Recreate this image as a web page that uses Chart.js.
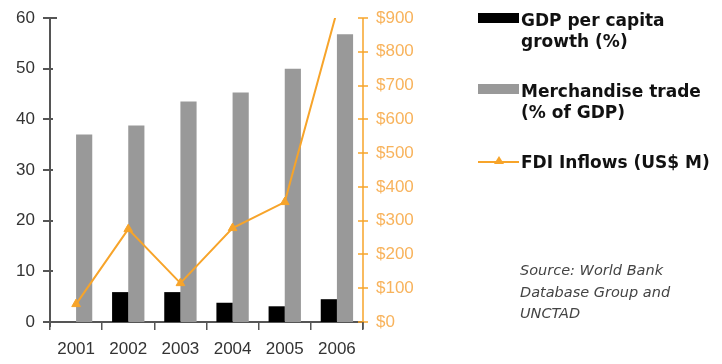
<!DOCTYPE html>
<html><head><meta charset="utf-8">
<script src="https://cdn.jsdelivr.net/npm/chart.js@4/dist/chart.umd.min.js"></script>
<style>
html,body{margin:0;padding:0;background:#fff;}
#wrap{position:relative;width:722px;height:364px;}
canvas{position:absolute;left:0;top:0;}
.leg{position:absolute;font-family:"DejaVu Sans",Verdana,sans-serif;font-weight:bold;font-size:17px;line-height:21px;color:#111;white-space:nowrap;}
.sw{position:absolute;}
.src{position:absolute;left:520px;top:260px;font-family:"DejaVu Sans",Verdana,sans-serif;font-style:italic;font-size:14.5px;line-height:21.5px;color:#444;}
</style></head>
<body><div id="wrap">
<canvas id="c" width="722" height="364"></canvas>
<div class="sw" style="left:478px;top:13px;width:41px;height:10px;background:#000"></div>
<div class="leg" style="left:521px;top:10px">GDP per capita<br>growth (%)</div>
<div class="sw" style="left:478px;top:84px;width:41px;height:10px;background:#999"></div>
<div class="leg" style="left:521px;top:81px">Merchandise trade<br>(% of GDP)</div>
<div class="sw" style="left:478px;top:161px;width:41px;height:2px;background:#f7a42a"></div>
<div class="sw" style="left:494px;top:156px;width:0;height:0;border-left:5px solid transparent;border-right:5px solid transparent;border-bottom:8px solid #f7a42a"></div>
<div class="leg" style="left:521px;top:152px">FDI Inflows (US$ M)</div>
<div class="src">Source: World Bank<br>Database Group and<br>UNCTAD</div>
</div>
<script>
const years = ['2001','2002','2003','2004','2005','2006'];
const gdpGrowth = [0, 5.9, 5.9, 3.8, 3.1, 4.5];
const merchTrade = [37, 38.8, 43.5, 45.3, 50, 56.8];
const fdiInflows = [53, 275, 115, 278, 355, 920];
const leftTicks = [0,10,20,30,40,50,60];
const rightTicks = [0,100,200,300,400,500,600,700,800,900];

const ORANGE = '#f7a42a';
const AXIS = '#555';
const FONT = "'Liberation Sans', Arial, sans-serif";

const tickCross = {
  id:'tickCross',
  afterDraw(chart){
    const c = chart.ctx, a = chart.chartArea;
    c.save();
    const yl = chart.scales.y, yr = chart.scales.yR;
    c.lineWidth = 2; c.strokeStyle = AXIS;
    c.beginPath(); c.moveTo(a.left, a.top); c.lineTo(a.left, a.bottom+5); c.stroke();
    leftTicks.forEach(v=>{const p=Math.round(yl.getPixelForValue(v)); c.beginPath(); c.moveTo(a.left-7,p); c.lineTo(a.left+ (v===60?7:3),p); c.stroke();});
    c.lineWidth = 1.5; c.strokeStyle = ORANGE;
    c.beginPath(); c.moveTo(a.right, a.top); c.lineTo(a.right, a.bottom); c.stroke();
    rightTicks.forEach(v=>{const p=Math.round(yr.getPixelForValue(v)); c.beginPath(); c.moveTo(a.right-5,p); c.lineTo(a.right+5,p); c.stroke();});
    c.lineWidth = 1.5; c.strokeStyle = AXIS;
    c.beginPath(); c.moveTo(a.right, a.bottom); c.lineTo(a.right, a.bottom+7); c.stroke();
    c.restore();
  }
};

new Chart(document.getElementById('c'), {
  data:{
    labels: years,
    datasets:[
      {type:'line', label:'FDI Inflows (US$ M)', data: fdiInflows, yAxisID:'yR', borderColor:ORANGE, backgroundColor:ORANGE, borderWidth:2, pointStyle:'triangle', pointRadius:5, pointBorderWidth:1, order:0, clip:0},
      {type:'bar', label:'GDP per capita growth (%)', data: gdpGrowth, yAxisID:'y', backgroundColor:'#000', categoryPercentage:0.62, barPercentage:1, order:1},
      {type:'bar', label:'Merchandise trade (% of GDP)', data: merchTrade, yAxisID:'y', backgroundColor:'#999', categoryPercentage:0.62, barPercentage:1, order:1}
    ]
  },
  options:{
    responsive:false, animation:false,
    layout:{padding:{top:18,left:0,right:0,bottom:0}},
    plugins:{legend:{display:false}, tooltip:{enabled:false}},
    scales:{
      x:{
        offset:true,
        grid:{offset:true, drawOnChartArea:false, drawTicks:true, tickLength:8, color:AXIS, lineWidth:1.5},
        border:{display:true, color:AXIS, width:2},
        ticks:{color:'#333', font:{family:FONT, size:17}, padding:9},
        afterFit(s){s.height = 42;}
      },
      y:{
        position:'left', min:0, max:60,
        afterBuildTicks(s){s.ticks = leftTicks.map(v=>({value:v}));},
        grid:{display:false},
        border:{display:false},
        ticks:{color:'#333', font:{family:FONT, size:17}, padding:7},
        afterFit(s){s.width = 50;}
      },
      yR:{
        position:'right', min:0, max:900,
        afterBuildTicks(s){s.ticks = rightTicks.map(v=>({value:v}));},
        grid:{display:false},
        border:{display:false},
        ticks:{color:'#f8b35c', font:{family:FONT, size:17}, padding:5, callback:v=>'$'+v},
        afterFit(s){s.width = 359;}
      }
    }
  },
  plugins:[tickCross]
});
</script>
</body></html>
